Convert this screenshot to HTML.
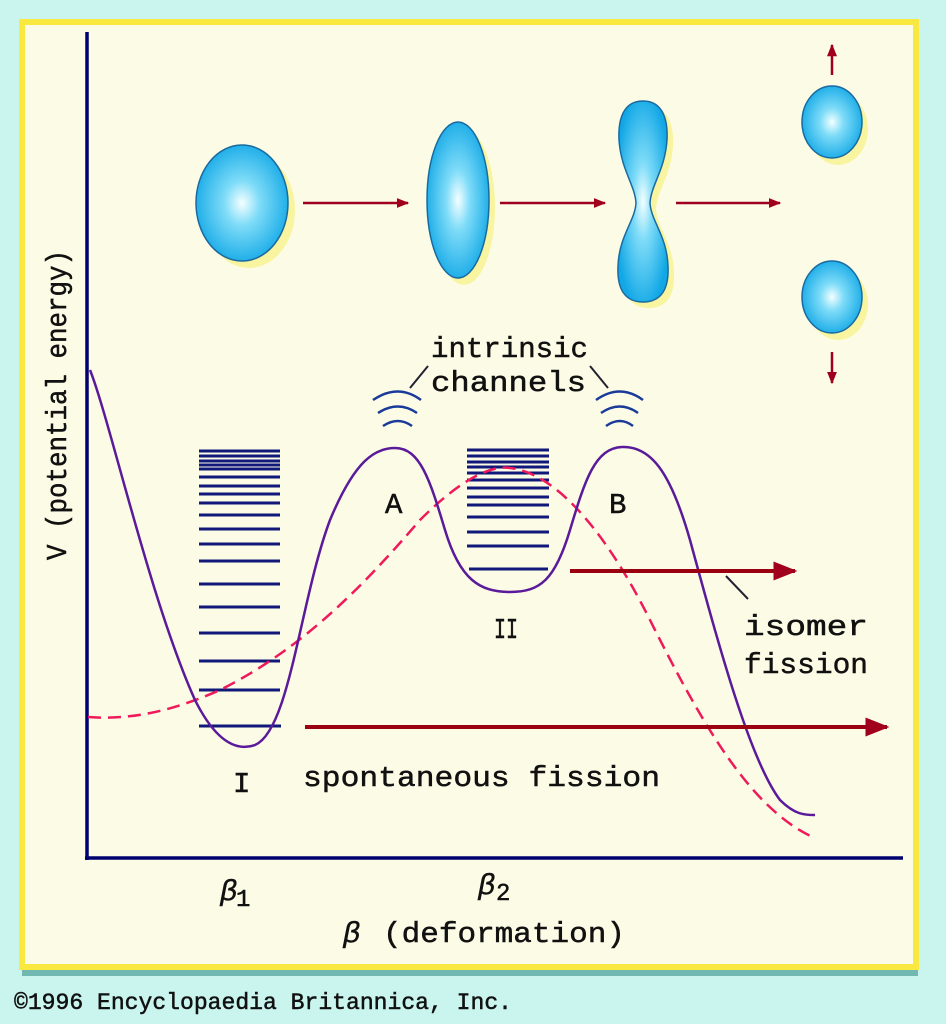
<!DOCTYPE html>
<html><head><style>
html,body{margin:0;padding:0;background:#c9f5ee;}
svg{display:block;}
text{font-family:"Liberation Mono","DejaVu Sans Mono",monospace;fill:#111;stroke:#111;stroke-width:0.5;}
</style></head><body>
<svg width="946" height="1024" viewBox="0 0 946 1024" xmlns="http://www.w3.org/2000/svg">
<defs>
<radialGradient id="g" cx="0.5" cy="0.5" r="0.55">
<stop offset="0" stop-color="#f4ffff"/><stop offset="0.35" stop-color="#7fdcf8"/><stop offset="1" stop-color="#12a8e6"/>
</radialGradient>
<marker id="ah" viewBox="0 0 10 10" refX="9" refY="5" markerWidth="6" markerHeight="6" orient="auto"><path d="M0,1 L10,5 L0,9 Z" fill="#a0001c"/></marker>
<marker id="ahb" viewBox="0 0 10 10" refX="9" refY="5" markerWidth="5" markerHeight="5" orient="auto"><path d="M0,1 L10,5 L0,9 Z" fill="#a0001c"/></marker>
</defs>
<rect x="22" y="966" width="896" height="10" fill="#70b8b0"/>
<rect x="22" y="22" width="894" height="945" fill="#fcfce6" stroke="#f8e840" stroke-width="6"/>
<!-- axes -->
<line x1="87" y1="32" x2="87" y2="860" stroke="#000070" stroke-width="3.5"/>
<line x1="85" y1="858" x2="903" y2="858" stroke="#000070" stroke-width="3.5"/>
<g fill="#f8f4a0">
<ellipse cx="249" cy="210" rx="46" ry="58"/>
<ellipse cx="464" cy="207" rx="31" ry="78"/>
<ellipse cx="838" cy="129" rx="30" ry="36"/>
<ellipse cx="838" cy="304" rx="30" ry="36"/>
<path transform="translate(6,6)" d="M643,101 C623,101 618,120 619,140 C621,170 635,185 636,203 C635,221 619,236 618,266 C617,288 624,302 643,302 C662,302 669,288 668,266 C667,236 651,221 650,203 C651,185 665,170 667,140 C668,120 663,101 643,101 Z"/>
</g>
<g fill="url(#g)" stroke="#1a6aa0" stroke-width="1.5">
<ellipse cx="242" cy="203" rx="46" ry="58"/>
<ellipse cx="458" cy="200" rx="31" ry="78"/>
<ellipse cx="832" cy="122" rx="30" ry="36"/>
<ellipse cx="832" cy="297" rx="30" ry="36"/>
<path d="M643,101 C623,101 618,120 619,140 C621,170 635,185 636,203 C635,221 619,236 618,266 C617,288 624,302 643,302 C662,302 669,288 668,266 C667,236 651,221 650,203 C651,185 665,170 667,140 C668,120 663,101 643,101 Z"/>
</g>
<g stroke="#a0001c" stroke-width="2.5" fill="none">
<line x1="303" y1="203" x2="408" y2="203" marker-end="url(#ahb)"/>
<line x1="500" y1="203" x2="605" y2="203" marker-end="url(#ahb)"/>
<line x1="676" y1="203" x2="780" y2="203" marker-end="url(#ahb)"/>
<line x1="832" y1="75" x2="832" y2="45" marker-end="url(#ahb)"/>
<line x1="832" y1="352" x2="832" y2="383" marker-end="url(#ahb)"/>
</g>
<g stroke="#10187a" stroke-width="3">
<line x1="199" x2="280" y1="451" y2="451"/><line x1="199" x2="280" y1="456" y2="456"/>
<line x1="199" x2="280" y1="461" y2="461"/><line x1="199" x2="280" y1="465" y2="465"/>
<line x1="199" x2="280" y1="469" y2="469"/><line x1="199" x2="280" y1="477" y2="477"/>
<line x1="199" x2="280" y1="486" y2="486"/><line x1="199" x2="280" y1="494" y2="494"/>
<line x1="199" x2="280" y1="503" y2="503"/><line x1="199" x2="280" y1="515" y2="515"/>
<line x1="199" x2="280" y1="529" y2="529"/><line x1="199" x2="280" y1="544" y2="544"/>
<line x1="199" x2="280" y1="561" y2="561"/><line x1="199" x2="280" y1="584" y2="584"/>
<line x1="199" x2="280" y1="607" y2="607"/><line x1="199" x2="280" y1="633" y2="633"/>
<line x1="199" x2="280" y1="661" y2="661"/><line x1="199" x2="280" y1="690" y2="690"/>
<line x1="199" x2="281" y1="726" y2="726"/>
<line x1="467" x2="549" y1="450" y2="450"/><line x1="467" x2="549" y1="456" y2="456"/>
<line x1="467" x2="549" y1="462" y2="462"/><line x1="467" x2="549" y1="467" y2="467"/>
<line x1="467" x2="549" y1="473" y2="473"/><line x1="467" x2="549" y1="480" y2="480"/>
<line x1="467" x2="549" y1="488" y2="488"/><line x1="467" x2="549" y1="497" y2="497"/>
<line x1="467" x2="549" y1="505" y2="505"/><line x1="467" x2="549" y1="517" y2="517"/>
<line x1="467" x2="549" y1="532" y2="532"/><line x1="467" x2="549" y1="546" y2="546"/>
<line x1="469" x2="548" y1="569" y2="569"/>
</g>
<g stroke="#1a3a9a" stroke-width="2.5" fill="none">
<path d="M373,400 Q398,383 421,400"/><path d="M378,413 Q398,400 417,413"/><path d="M383,426 Q398,416 412,426"/>
<path d="M596,400 Q620,383 643,400"/><path d="M601,413 Q620,400 638,413"/><path d="M606,426 Q620,416 633,426"/>
</g>
<line x1="410" y1="388" x2="428" y2="366" stroke="#223" stroke-width="2"/>
<line x1="590" y1="366" x2="608" y2="388" stroke="#223" stroke-width="2"/>
<path d="M88,717 C130,720 170,712 220,690 C300,650 360,590 420,520 C460,480 490,465 510,468 C550,472 600,520 650,620 C700,720 750,810 815,838" fill="none" stroke="#ee1a5a" stroke-width="2.5" stroke-dasharray="13,7"/>
<path d="M90,370 C110,420 150,600 195,700 C215,740 235,752 255,745 C290,730 300,600 330,520 C355,460 375,448 395,448 C420,448 430,480 445,530 C460,580 480,592 510,592 C540,592 555,580 570,530 C585,480 595,448 622,447 C650,446 670,470 690,540 C720,650 750,760 780,800 C795,815 805,815 815,815" fill="none" stroke="#5a1a9a" stroke-width="2.5"/>
<g stroke="#9a0010" stroke-width="4" fill="none">
<line x1="570" y1="571" x2="795" y2="571" marker-end="url(#ah)"/>
<line x1="305" y1="727" x2="887" y2="727" marker-end="url(#ah)"/>
</g>
<line x1="726" y1="576" x2="748" y2="599" stroke="#223" stroke-width="2"/>
<g font-size="29">
<text x="431" y="357" textLength="157" lengthAdjust="spacingAndGlyphs">intrinsic</text>
<text x="431" y="391" textLength="155" lengthAdjust="spacingAndGlyphs">channels</text>
<text x="385" y="513">A</text>
<text x="609" y="513">B</text>
<text x="494" y="638" textLength="24" lengthAdjust="spacingAndGlyphs">II</text>
<text x="233" y="792">I</text>
<text x="744" y="635" textLength="124" lengthAdjust="spacingAndGlyphs">isomer</text>
<text x="744" y="673" textLength="124" lengthAdjust="spacingAndGlyphs">fission</text>
<text x="303" y="786" textLength="357" lengthAdjust="spacingAndGlyphs">spontaneous fission</text>
<text x="220" y="900" font-style="italic">β</text><text x="236" y="906" font-size="24">1</text>
<text x="478" y="894" font-style="italic">β</text><text x="496" y="900" font-size="24">2</text>
<text x="343" y="942" font-style="italic">β</text>
<text x="383" y="942" textLength="242" lengthAdjust="spacingAndGlyphs">(deformation)</text>
<text transform="translate(66,560) rotate(-90)" textLength="310" lengthAdjust="spacingAndGlyphs">V (potential energy)</text>
</g>
<text x="14" y="1009" font-size="23" textLength="498" lengthAdjust="spacingAndGlyphs">©1996 Encyclopaedia Britannica, Inc.</text>
</svg>
</body></html>
